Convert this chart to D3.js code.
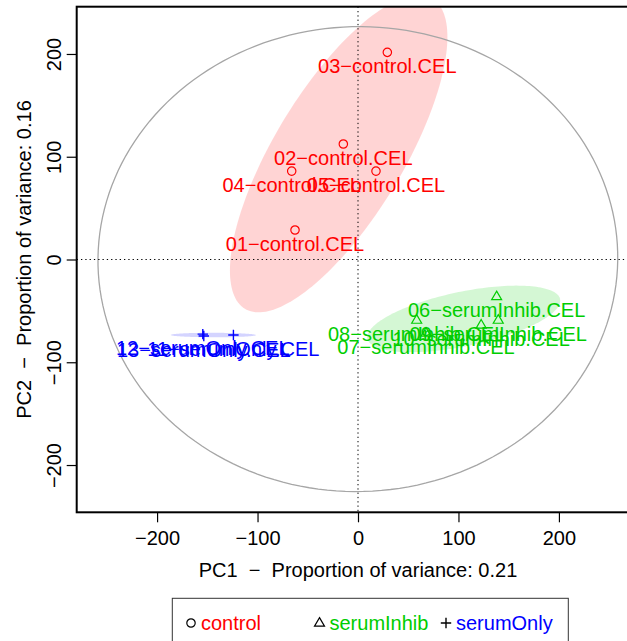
<!DOCTYPE html>
<html>
<head>
<meta charset="utf-8">
<script src="https://cdn.jsdelivr.net/npm/d3@7"></script>
<style>
  body { margin: 0; background: #fff; }
  svg { display: block; font-family: "Liberation Sans", Arial, sans-serif; }
</style>
</head>
<body>
<svg id="chart" width="627" height="641"></svg>
<script>
// PCA scores
const sampleNames = [
  "01-control.CEL", "02-control.CEL", "03-control.CEL", "04-control.CEL", "05-control.CEL",
  "06-serumInhib.CEL", "07-serumInhib.CEL", "08-serumInhib.CEL", "09-serumInhib.CEL", "10-serumInhib.CEL",
  "11-serumOnly.CEL", "12-serumOnly.CEL", "13-serumOnly.CEL"
];
const sampleGroups = [
  "control", "control", "control", "control", "control",
  "serumInhib", "serumInhib", "serumInhib", "serumInhib", "serumInhib",
  "serumOnly", "serumOnly", "serumOnly"
];
const pc1 = [-62.7, -14.6, 29.2, -66, 17.9, 138, 67.7, 58.4, 139.6, 122.6, -124, -154.5, -153.5];
const pc2 = [28.7, 112.4, 201.6, 86, 86, -36, -71.5, -58.9, -58.9, -63.7, -73.5, -72.6, -74.4];

const groupNames = ["control", "serumInhib", "serumOnly"];
const groupColors = ["#ff0000", "#00cd00", "#0000ff"];
const groupShapes = ["circle", "triangle", "plus"];

const xTicks = [-200, -100, 0, 100, 200];
const yTicks = [-200, -100, 0, 100, 200];
const xLabel = "PC1  \u2212  Proportion of variance: 0.21";
const yLabel = "PC2  \u2212  Proportion of variance: 0.16";

const plot = { left: 76.7, right: 639.3, top: 6.7, bottom: 512.3 };
const chi95 = Math.sqrt(5.991); // 95% normal ellipse, 2 df

const svg = d3.select("#chart");
const x = d3.scaleLinear().domain([-280, 280]).range([plot.left, plot.right]);
const y = d3.scaleLinear().domain([-246, 246]).range([plot.bottom, plot.top]);

const pts = sampleNames.map((name, i) => ({
  name, group: sampleGroups[i], x: pc1[i], y: pc2[i]
}));

svg.append("defs").append("clipPath").attr("id", "plot-clip")
  .append("rect")
  .attr("x", plot.left).attr("y", plot.top)
  .attr("width", plot.right - plot.left).attr("height", plot.bottom - plot.top);

// data ellipse (mean + covariance, 95%)
function ellipsePoints(data) {
  const mx = d3.mean(data, (d) => d.x);
  const my = d3.mean(data, (d) => d.y);
  const n = data.length - 1;
  const sxx = d3.sum(data, (d) => (d.x - mx) ** 2) / n;
  const syy = d3.sum(data, (d) => (d.y - my) ** 2) / n;
  const sxy = d3.sum(data, (d) => (d.x - mx) * (d.y - my)) / n;
  const tr = sxx + syy;
  const disc = Math.sqrt(Math.max(0, (tr / 2) ** 2 - (sxx * syy - sxy * sxy)));
  const l1 = tr / 2 + disc;
  const l2 = Math.max(0, tr / 2 - disc);
  const theta = Math.abs(sxy) < 1e-9 ? (sxx >= syy ? 0 : Math.PI / 2) : Math.atan2(l1 - sxx, sxy);
  const a = Math.sqrt(l1) * chi95;
  const b = Math.sqrt(l2) * chi95;
  return d3.range(0, 360, 2).map((deg) => {
    const t = (deg * Math.PI) / 180;
    const ex = a * Math.cos(t);
    const ey = b * Math.sin(t);
    return [
      mx + ex * Math.cos(theta) - ey * Math.sin(theta),
      my + ex * Math.sin(theta) + ey * Math.cos(theta)
    ];
  });
}

const line = d3.line()
  .x((d) => x(d[0]))
  .y((d) => y(d[1]))
  .curve(d3.curveLinearClosed);

const clipped = svg.append("g").attr("clip-path", "url(#plot-clip)");

// group ellipses
groupNames.forEach((g, gi) => {
  clipped.append("path")
    .attr("d", line(ellipsePoints(pts.filter((p) => p.group === g))))
    .attr("fill", groupColors[gi])
    .attr("fill-opacity", 0.17)
    .attr("stroke", "none");
});

// overall ellipse
clipped.append("path")
  .attr("d", line(ellipsePoints(pts)))
  .attr("fill", "none")
  .attr("stroke", "#a6a6a6")
  .attr("stroke-width", 1.3);

// zero lines
clipped.append("line")
  .attr("x1", x(0)).attr("x2", x(0))
  .attr("y1", plot.top).attr("y2", plot.bottom)
  .attr("stroke", "#000").attr("stroke-dasharray", "1.3,3");
clipped.append("line")
  .attr("x1", plot.left).attr("x2", plot.right)
  .attr("y1", y(0)).attr("y2", y(0))
  .attr("stroke", "#000").attr("stroke-dasharray", "1.3,3");

// symbols
function drawSymbol(sel, shape, color) {
  if (shape === "circle") {
    sel.append("circle").attr("r", 4.2)
      .attr("fill", "none").attr("stroke", color).attr("stroke-width", 1.2);
  } else if (shape === "triangle") {
    sel.append("path").attr("d", "M0,-5.4L5,3.2L-5,3.2Z")
      .attr("fill", "none").attr("stroke", color).attr("stroke-width", 1.2);
  } else {
    sel.append("path").attr("d", "M-5.2,0H5.2M0,-5.2V5.2")
      .attr("fill", "none").attr("stroke", color).attr("stroke-width", 1.4);
  }
}

const marks = clipped.append("g");
pts.forEach((p) => {
  const gi = groupNames.indexOf(p.group);
  const s = marks.append("g").attr("transform", `translate(${x(p.x)},${y(p.y)})`);
  drawSymbol(s, groupShapes[gi], groupColors[gi]);
});

// labels below points
clipped.append("g")
  .selectAll("text")
  .data(pts)
  .join("text")
  .attr("x", (d) => x(d.x))
  .attr("y", (d) => y(d.y) + 21)
  .attr("text-anchor", "middle")
  .attr("font-size", 20)
  .attr("fill", (d) => groupColors[groupNames.indexOf(d.group)])
  .text((d) => d.name.replace("-", "\u2212"));

// axes
const fmt = (d) => (d < 0 ? "\u2212" + Math.abs(d) : String(d));

const xAxis = svg.append("g")
  .attr("transform", `translate(0,${plot.bottom})`)
  .call(d3.axisBottom(x).tickValues(xTicks).tickFormat(fmt).tickSizeOuter(0).tickSize(10).tickPadding(9));
xAxis.select(".domain").remove();
xAxis.selectAll("line").attr("stroke", "#000").attr("stroke-width", 1.2);
xAxis.selectAll("text").attr("font-size", 20).attr("fill", "#000").attr("font-family", null);

const yAxis = svg.append("g")
  .attr("transform", `translate(${plot.left},0)`)
  .call(d3.axisLeft(y).tickValues(yTicks).tickFormat(fmt).tickSizeOuter(0).tickSize(10));
yAxis.select(".domain").remove();
yAxis.selectAll("line").attr("stroke", "#000").attr("stroke-width", 1.2);
yAxis.selectAll("text")
  .attr("font-size", 20).attr("fill", "#000").attr("font-family", null)
  .attr("text-anchor", "middle")
  .attr("transform", "rotate(-90)")
  .attr("x", 0).attr("y", -16).attr("dy", null);

// plot box
svg.append("rect")
  .attr("x", plot.left).attr("y", plot.top)
  .attr("width", plot.right - plot.left).attr("height", plot.bottom - plot.top)
  .attr("fill", "none").attr("stroke", "#000").attr("stroke-width", 2);

// axis titles
svg.append("text")
  .attr("x", (plot.left + plot.right) / 2).attr("y", 577)
  .attr("text-anchor", "middle").attr("font-size", 20)
  .style("white-space", "pre")
  .text(xLabel);
svg.append("text")
  .attr("transform", `translate(31,${(plot.top + plot.bottom) / 2}) rotate(-90)`)
  .attr("text-anchor", "middle").attr("font-size", 20)
  .style("white-space", "pre")
  .text(yLabel);

// legend
const legend = svg.append("g");
legend.append("rect")
  .attr("x", 172.3).attr("y", 598.3).attr("width", 396).attr("height", 60)
  .attr("fill", "#fff").attr("stroke", "#333").attr("stroke-width", 1);
const legendX = [191, 319.5, 446];
groupNames.forEach((g, gi) => {
  const item = legend.append("g").attr("transform", `translate(${legendX[gi]},623)`);
  drawSymbol(item, groupShapes[gi], "#000");
  item.append("text")
    .attr("x", 10).attr("y", 7)
    .attr("font-size", 20)
    .attr("fill", groupColors[gi])
    .text(g);
});
</script>
</body>
</html>
